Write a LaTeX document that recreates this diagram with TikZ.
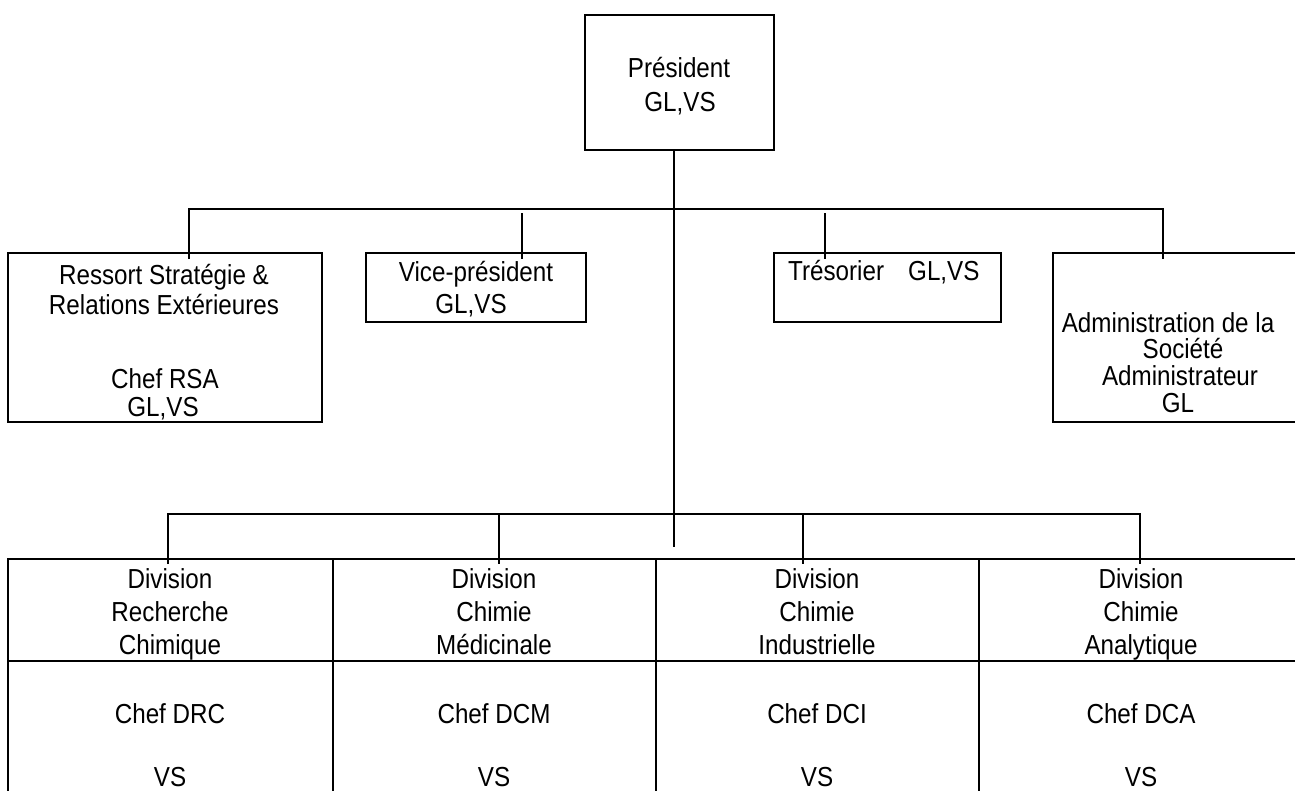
\documentclass[tikz,border=0pt]{standalone}
\usepackage{fontspec}
\setmainfont{Liberation Sans}[FakeStretch=0.88]
\begin{document}
\begin{tikzpicture}[x=1pt,y=-1pt,
  boxst/.style={draw=black,line width=2pt,rectangle,inner sep=0pt},
  conn/.style={draw=black,line width=1.3pt},
  lbl/.style={anchor=base,inner sep=0pt,font=\fontsize{27.5}{33}\selectfont},
  lblw/.style={anchor=base west,inner sep=0pt,font=\fontsize{27.5}{33}\selectfont}]
\useasboundingbox (0,0) rectangle (1295,790);
% boxes
\node[boxst,minimum width=189pt,minimum height=135pt] (pres) at (679.5,82.5) {};
\node[boxst,minimum width=314pt,minimum height=169pt] (res) at (165,337.5) {};
\node[boxst,minimum width=220pt,minimum height=69pt] (vice) at (476,287.5) {};
\node[boxst,minimum width=227pt,minimum height=69pt] (tres) at (887.5,287.5) {};
\node[boxst,minimum width=254pt,minimum height=169pt] (adm) at (1180,337.5) {};
% table cells
\node[boxst,minimum width=325pt,minimum height=102pt] (d1) at (170.5,610) {};
\node[boxst,minimum width=323pt,minimum height=102pt] (d2) at (494.5,610) {};
\node[boxst,minimum width=323pt,minimum height=102pt] (d3) at (817.5,610) {};
\node[boxst,minimum width=323pt,minimum height=102pt] (d4) at (1140.5,610) {};
\node[boxst,minimum width=325pt,minimum height=150pt] (c1) at (170.5,736) {};
\node[boxst,minimum width=323pt,minimum height=150pt] (c2) at (494.5,736) {};
\node[boxst,minimum width=323pt,minimum height=150pt] (c3) at (817.5,736) {};
\node[boxst,minimum width=323pt,minimum height=150pt] (c4) at (1140.5,736) {};
% junction coordinates
\coordinate (mainEnd) at (674,547);
\coordinate (rTop) at (189,209);
\coordinate (vTop) at (522,209);
\coordinate (tTop) at (825,209);
\coordinate (aTop) at (1163,209);
\coordinate (l1) at (168,514);
\coordinate (l2) at (499,514);
\coordinate (l3) at (803,514);
\coordinate (l4) at (1140,514);
% connectors
\draw[conn] (pres.south -| mainEnd) -- (mainEnd);
\draw[conn] (res.north -| rTop) ++(0,7) -- (rTop) -- (aTop) -- (adm.north -| aTop) -- ++(0,7);
\draw[conn] ([yshift=-4pt]vTop) -- (vice.north -| vTop) -- ++(0,7);
\draw[conn] ([yshift=-4pt]tTop) -- (tres.north -| tTop) -- ++(0,7);
\draw[conn] (d1.north -| l1) ++(0,6) -- (l1) -- (l4) -- (d4.north -| l4) -- ++(0,6);
\draw[conn] (l2) -- (d2.north -| l2) -- ++(0,6);
\draw[conn] (l3) -- (d3.north -| l3) -- ++(0,6);
% texts
\node[lbl] (p1) at (679,77) {Président};
\node[lbl] (p2) at (680,111) {GL,VS};
\node[lbl] (r1) at (164,284) {Ressort Stratégie \&};
\node[lbl] (r2) at (164,314) {Relations Extérieures};
\node[lbl] (r3) at (165,388) {Chef RSA};
\node[lbl] (r4) at (163,416) {GL,VS};
\node[lbl] (v1) at (476,281) {Vice-président};
\node[lbl] (v2) at (471,313) {GL,VS};
\node[lblw] (tr1) at (788,280) {Trésorier};
\node[lblw] (tr2) at (908,280) {GL,VS};
\node[lbl] (a1) at (1168,332) {Administration de la};
\node[lbl] (a2) at (1183,358) {Société};
\node[lbl] (a3) at (1180,385) {Administrateur};
\node[lbl] (a4) at (1178,412) {GL};
% division texts
\foreach \n/\x/\b/\c/\chef in {1/170/Recherche/Chimique/DRC,2/494/Chimie/Médicinale/DCM,3/817/Chimie/Industrielle/DCI,4/1141/Chimie/Analytique/DCA}{
  \node[lbl] (dv\n a) at (\x,588) {Division};
  \node[lbl] (dv\n b) at (\x,621) {\b};
  \node[lbl] (dv\n c) at (\x,654) {\c};
  \node[lbl] (ch\n) at (\x,723) {Chef \chef};
  \node[lbl] (vs\n) at (\x,786) {VS};
}
\end{tikzpicture}
\end{document}
